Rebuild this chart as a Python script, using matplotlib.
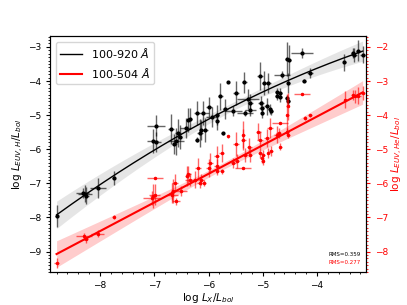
import numpy as np
import matplotlib
matplotlib.use('Agg')
import matplotlib.pyplot as plt
from matplotlib.ticker import AutoMinorLocator

# 100-920 A sample (left axis): log Lx/Lbol, log L_EUV,H/Lbol and errors
h_x = [-8.80, -8.32, -8.28, -8.25, -8.03, -7.75, -6.97, -7.03, -6.96, -6.69,
       -6.60, -6.63, -6.53, -6.56, -6.35, -6.37, -6.42, -6.22, -6.13, -6.16,
       -6.22, -6.10, -5.99, -5.94, -5.84, -5.78, -5.74, -5.64, -5.34, -5.49,
       -5.05, -4.97, -4.90, -4.65, -4.74, -4.68, -4.74, -4.68, -5.27, -5.23,
       -5.33, -5.23, -5.03, -5.02, -5.01, -4.93, -4.87, -4.85, -5.54, -5.69,
       -5.85, -6.06, -4.56, -4.51, -4.28, -4.13, -4.24, -4.53, -4.56, -4.53,
       -3.50, -3.34, -3.32, -3.24, -3.16]
h_y = [-7.96, -7.28, -7.31, -7.36, -7.13, -6.85, -5.31, -5.77, -5.79, -5.41,
       -5.77, -5.84, -5.65, -5.52, -5.10, -5.15, -5.38, -5.72, -5.43, -5.52,
       -4.94, -4.94, -4.76, -5.06, -5.18, -4.45, -5.53, -4.04, -4.04, -4.34,
       -3.85, -4.06, -4.06, -3.82, -4.31, -4.35, -4.45, -4.47, -4.53, -4.63,
       -4.94, -4.84, -4.65, -4.79, -4.94, -4.74, -4.82, -4.89, -4.89, -4.82,
       -4.99, -5.43, -3.36, -3.38, -3.18, -3.77, -3.99, -4.06, -4.50, -4.60,
       -3.45, -3.18, -3.23, -3.11, -3.23]
h_xerr = [0.03, 0.12, 0.13, 0.05, 0.15, 0.03, 0.16, 0.10, 0.08, 0.05,
          0.15, 0.05, 0.05, 0.05, 0.05, 0.05, 0.10, 0.03, 0.05, 0.05,
          0.05, 0.10, 0.05, 0.10, 0.03, 0.05, 0.03, 0.02, 0.05, 0.05,
          0.05, 0.05, 0.05, 0.15, 0.03, 0.03, 0.03, 0.03, 0.20, 0.05,
          0.15, 0.10, 0.05, 0.05, 0.03, 0.05, 0.03, 0.03, 0.15, 0.05,
          0.05, 0.05, 0.03, 0.03, 0.20, 0.05, 0.03, 0.03, 0.03, 0.03,
          0.03, 0.03, 0.05, 0.05, 0.05]
h_yerr = [0.32, 0.15, 0.25, 0.25, 0.30, 0.20, 0.30, 0.35, 0.30, 0.45,
          0.40, 0.30, 0.35, 0.40, 0.30, 0.35, 0.30, 0.08, 0.30, 0.40,
          0.35, 0.35, 0.30, 0.30, 0.25, 0.40, 0.05, 0.02, 0.30, 0.35,
          0.40, 0.35, 0.30, 0.10, 0.10, 0.15, 0.10, 0.15, 0.30, 0.25,
          0.10, 0.20, 0.20, 0.20, 0.15, 0.25, 0.15, 0.10, 0.15, 0.30,
          0.30, 0.35, 0.50, 0.45, 0.15, 0.15, 0.05, 0.30, 0.10, 0.10,
          0.25, 0.15, 0.20, 0.30, 0.25]

# 100-504 A sample (right axis): log L_EUV,He/Lbol
he_x = [-8.80, -8.29, -8.26, -8.04, -7.75, -6.99, -7.02, -6.99, -7.05, -6.68,
        -6.65, -6.62, -6.67, -6.60, -6.50, -6.39, -6.37, -6.34, -6.25, -6.19,
        -6.13, -6.16, -6.08, -6.00, -5.97, -5.84, -5.75, -5.85, -5.85, -5.76,
        -5.64, -5.49, -5.36, -5.25, -5.08, -5.05, -4.93, -4.87, -4.74, -4.68,
        -5.33, -5.23, -5.05, -4.99, -4.90, -4.85, -4.68, -4.55, -4.54, -4.53,
        -4.55, -4.71, -4.28, -4.23, -4.13, -3.48, -3.34, -3.30, -3.24, -3.16,
        -5.36, -5.48, -5.36, -5.54, -5.00, -5.02]
he_y = [-8.34, -7.55, -7.64, -7.47, -6.99, -5.84, -6.38, -6.33, -6.42, -6.28,
        -6.23, -5.99, -6.33, -6.52, -6.23, -5.79, -5.74, -5.89, -5.89, -5.55,
        -5.89, -5.99, -5.99, -5.55, -5.40, -5.65, -5.65, -5.50, -5.20, -5.11,
        -4.62, -4.84, -4.72, -4.92, -4.48, -4.72, -4.67, -4.38, -4.57, -4.92,
        -5.16, -5.16, -5.11, -5.16, -5.11, -5.06, -4.23, -3.99, -3.74, -4.57,
        -4.48, -4.52, -3.38, -4.08, -4.01, -3.55, -3.40, -3.45, -3.43, -3.35,
        -4.57, -5.35, -5.55, -5.40, -5.35, -5.25]
he_xerr = [0.05, 0.15, 0.03, 0.12, 0.02, 0.15, 0.05, 0.10, 0.15, 0.05,
           0.05, 0.05, 0.10, 0.08, 0.10, 0.05, 0.05, 0.10, 0.05, 0.05,
           0.05, 0.05, 0.03, 0.05, 0.05, 0.03, 0.03, 0.05, 0.05, 0.05,
           0.02, 0.05, 0.05, 0.05, 0.05, 0.05, 0.05, 0.05, 0.05, 0.03,
           0.05, 0.03, 0.03, 0.03, 0.03, 0.03, 0.15, 0.03, 0.03, 0.03,
           0.03, 0.05, 0.15, 0.03, 0.03, 0.03, 0.03, 0.05, 0.05, 0.05,
           0.03, 0.05, 0.15, 0.05, 0.03, 0.03]
he_yerr = [0.15, 0.10, 0.10, 0.10, 0.05, 0.03, 0.35, 0.30, 0.20, 0.30,
           0.35, 0.25, 0.15, 0.10, 0.15, 0.30, 0.25, 0.20, 0.25, 0.30,
           0.15, 0.15, 0.10, 0.25, 0.30, 0.10, 0.08, 0.20, 0.30, 0.25,
           0.05, 0.35, 0.30, 0.25, 0.25, 0.25, 0.25, 0.30, 0.25, 0.10,
           0.20, 0.20, 0.15, 0.15, 0.15, 0.15, 0.03, 0.60, 0.40, 0.10,
           0.10, 0.15, 0.03, 0.05, 0.05, 0.25, 0.15, 0.20, 0.25, 0.20,
           0.40, 0.20, 0.03, 0.15, 0.10, 0.15]

# fit relations
h_fit = [-0.053, 0.853, -5.12]      # quadratic in (x + 6)
h_band = [0.12, 0.116, -5.5]        # s0, s1, x0 of confidence band
he_fit = [0.84, -0.68]              # linear
he_band = [0.10, 0.125, -5.8]
rms_h, rms_he = 0.359, 0.277

fig = plt.figure(figsize=(4.07, 3.05), dpi=100)
ax = fig.add_axes([0.123, 0.108, 0.776, 0.774])
ax2 = ax.twinx()

xx = np.linspace(min(h_x), max(h_x), 200)

# black: 100-920
yy = np.polyval(h_fit, xx + 6)
w = np.sqrt(h_band[0]**2 + (h_band[1] * (xx - h_band[2]))**2)
ax.fill_between(xx, yy - w, yy + w, color='gray', alpha=0.2, lw=0)
ax.errorbar(h_x, h_y, xerr=h_xerr, yerr=h_yerr, fmt='.', color='k',
            ecolor=(0, 0, 0, 0.6), ms=4, elinewidth=1, zorder=3)
l1, = ax.plot(xx, yy, color='k', lw=1, label=r'100-920 $\AA$')

# red: 100-504
yr = np.polyval(he_fit, xx)
wr = np.sqrt(he_band[0]**2 + (he_band[1] * (xx - he_band[2]))**2)
ax2.fill_between(xx, yr - wr, yr + wr, color='red', alpha=0.2, lw=0)
ax2.errorbar(he_x, he_y, xerr=he_xerr, yerr=he_yerr, fmt='.', color='red',
             ecolor=(1, 0, 0, 0.6), ms=3, elinewidth=1, zorder=3)
l2, = ax2.plot(xx, yr, color='red', lw=1.5, label=r'100-504 $\AA$')

ax.set_xlim(-8.92, -3.1)
ax.set_ylim(-9.6, -2.68)
ax2.set_ylim(-8.6, -1.68)

ax.xaxis.set_minor_locator(AutoMinorLocator(5))
ax.yaxis.set_minor_locator(AutoMinorLocator(10))
ax2.yaxis.set_minor_locator(AutoMinorLocator(10))
ax.tick_params(labelsize=6.5, length=3)
ax.tick_params(which='minor', length=1.5)
ax2.tick_params(labelsize=6.5, length=3, colors='red')
ax2.tick_params(which='minor', length=1.5, colors='red')

ax.set_xlabel(r'log $L_X/L_{bol}$', fontsize=7.5, labelpad=1)
ax.set_ylabel(r'log $L_{EUV,H}/L_{bol}$', fontsize=7.5, labelpad=1)
ax2.set_ylabel(r'log $L_{EUV,He}/L_{bol}$', fontsize=7.5, color='red', labelpad=1)

ax2.legend(handles=[l1, l2], loc='upper left', fontsize=8)

ax.text(0.985, 0.075, 'RMS=%.3f' % rms_h, transform=ax.transAxes,
        ha='right', va='center', fontsize=4, color='k')
ax.text(0.985, 0.042, 'RMS=%.3f' % rms_he, transform=ax.transAxes,
        ha='right', va='center', fontsize=4, color='red')

fig.savefig('out.png', dpi=100)
